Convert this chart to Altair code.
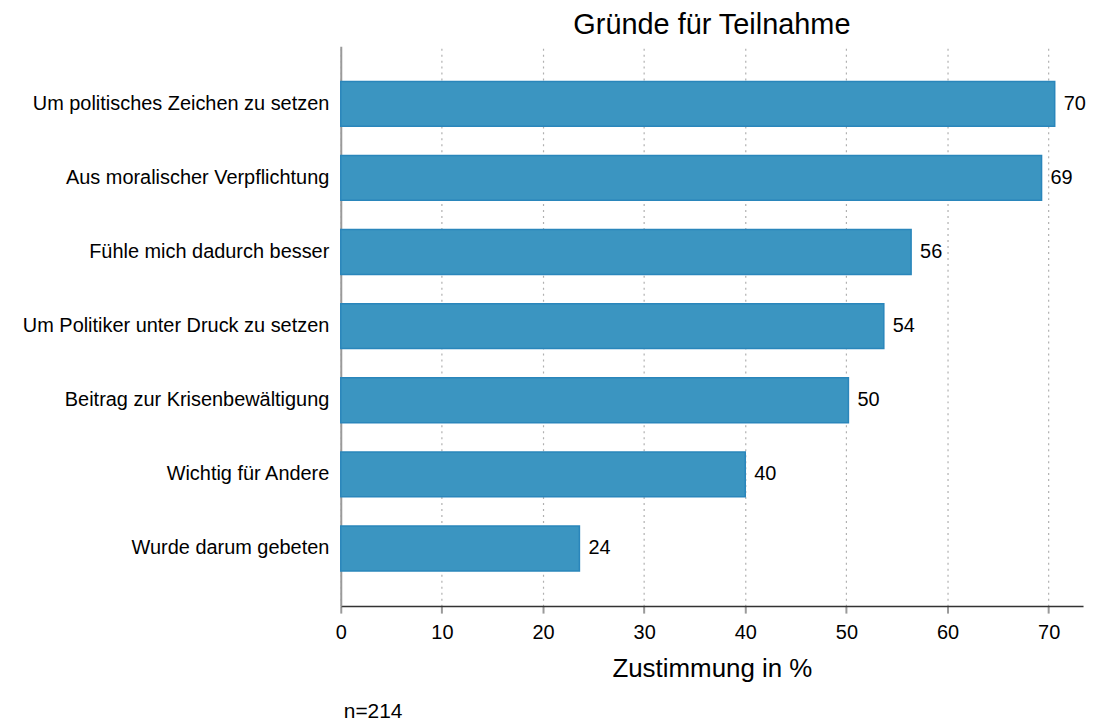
import altair as alt
import pandas as pd

categories = [
    "Um politisches Zeichen zu setzen",
    "Aus moralischer Verpflichtung",
    "Fühle mich dadurch besser",
    "Um Politiker unter Druck zu setzen",
    "Beitrag zur Krisenbewältigung",
    "Wichtig für Andere",
    "Wurde darum gebeten",
]
values = [70.6, 69.3, 56.4, 53.7, 50.2, 40.0, 23.6]
labels = [70, 69, 56, 54, 50, 40, 24]
x_ticks = [0, 10, 20, 30, 40, 50, 60, 70]

df = pd.DataFrame({"reason": categories, "value": values, "label": labels})

FONT = "Liberation Sans"
W, H = 745, 562

y_enc = alt.Y(
    "reason:N",
    sort=categories,
    scale=alt.Scale(paddingInner=0.395, paddingOuter=0.475),
    axis=alt.Axis(
        title=None, ticks=False, labelFontSize=20, labelFont=FONT,
        labelColor="#000000", labelPadding=12, domainColor="#9a9a9a",
        domainWidth=2, labelLimit=400,
    ),
)

bars = alt.Chart(df).mark_bar(
    color="#3b95c1", stroke="#2a86bb", strokeWidth=1.5
).encode(
    x=alt.X(
        "value:Q",
        scale=alt.Scale(domain=[0, 73.4], nice=False),
        axis=alt.Axis(
            values=x_ticks, title="Zustimmung in %", titleFontSize=26,
            titleFont=FONT, titleFontWeight="normal", titleColor="#000000",
            titlePadding=14, labelFontSize=20, labelFont=FONT,
            labelColor="#000000", labelPadding=9, labelFlush=False,
            tickColor="#9a9a9a",
            tickSize=7, tickWidth=2, domainColor="#333333", domainWidth=1.5,
            grid=True, gridDash=[2, 4], gridColor="#b0b0b0", gridWidth=1.2,
        ),
    ),
    y=y_enc,
)

text = alt.Chart(df).mark_text(
    align="left", baseline="middle", dx=9, fontSize=20, font=FONT, color="#000000"
).encode(
    x="value:Q",
    y=alt.Y("reason:N", sort=categories),
    text="label:Q",
)

note = alt.Chart(pd.DataFrame({"t": ["n=214"]})).mark_text(
    align="left", baseline="middle", fontSize=21, font=FONT, color="#000000"
).encode(
    x=alt.value(3), y=alt.value(H + 106), text="t:N"
)

chart = alt.layer(bars, text, note).properties(
    width=W, height=H,
    padding={"left": 14, "top": 2, "right": 5, "bottom": 5},
    title=alt.TitleParams(
        "Gründe für Teilnahme", fontSize=29, font=FONT, fontWeight="normal",
        color="#000000", anchor="middle", offset=6,
    ),
).configure_view(stroke=None).configure_axisY(grid=False)

chart.save("out.html", embed_options={"renderer": "svg", "actions": False})
